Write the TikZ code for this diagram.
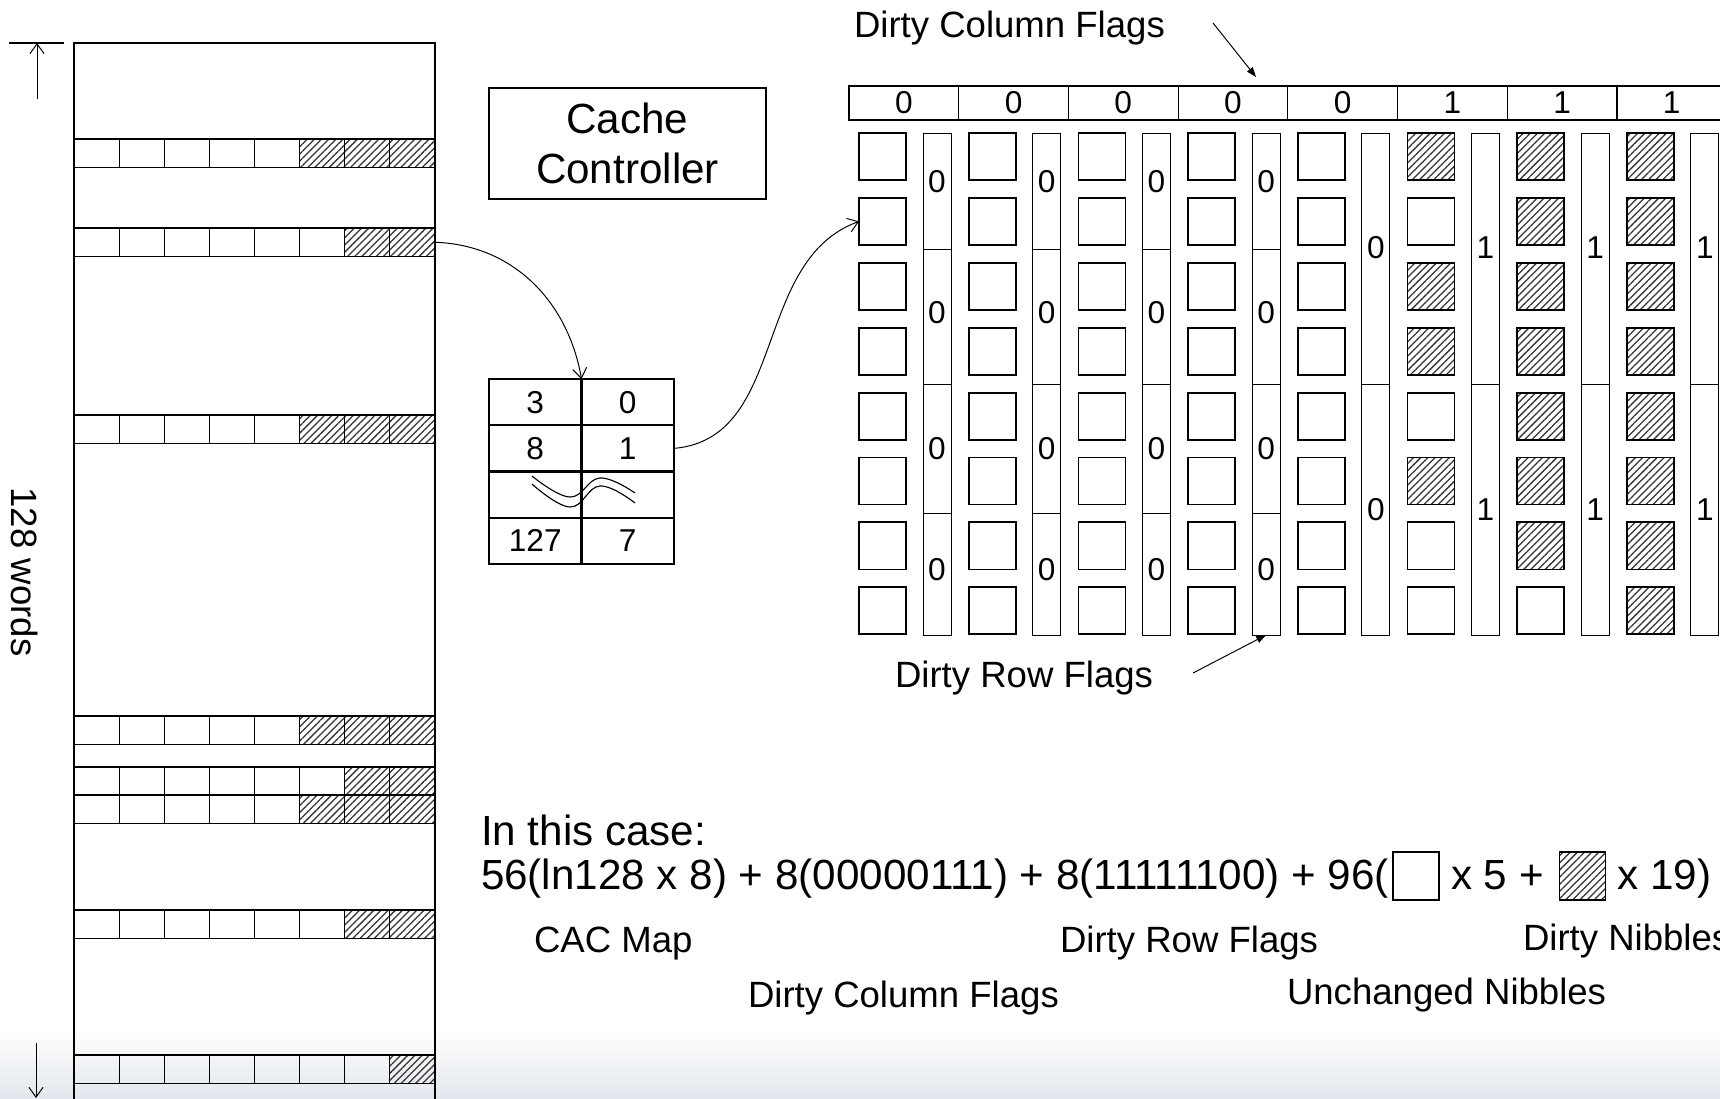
\documentclass[tikz,border=0pt]{standalone}
\usepackage{fontspec}
\setmainfont{Liberation Sans}
\usepackage{tikz}
\usetikzlibrary{arrows.meta,calc,positioning,patterns.meta}
\definecolor{ink}{HTML}{000000}
\definecolor{hatch}{HTML}{333333}
\definecolor{fade}{HTML}{E2E7ED}

\begin{document}
\begin{tikzpicture}[x=0.025cm, y=-0.025cm,
  every node/.style={inner sep=0pt, outer sep=0pt},
  lbl/.style={font=\fontsize{26}{31}\selectfont, anchor=base west},
  txtbig/.style={font=\fontsize{30}{36}\selectfont},
  txtsm/.style={font=\fontsize{22.5}{27}\selectfont},
  dirty/.style={pattern={Lines[angle=45,distance=3.6pt,line width=0.9pt]}, pattern color=hatch},
  wcell/.style={draw, line width=0.8pt, anchor=north west, minimum width=1.128cm, minimum height=0.7125cm},
  nib/.style={draw, line width=1.3pt, anchor=north west, minimum size=1.175cm},
  flagseg/.style={draw, line width=0.7pt, anchor=north west, minimum width=0.7cm},
  hdr/.style={draw, line width=0.8pt, anchor=north west, minimum width=2.7425cm, minimum height=0.85cm, txtsm},
  cac/.style={draw, line width=1.6pt, anchor=north west, minimum width=2.3125cm, minimum height=1.15625cm, txtsm},
  barb/.style={-{Straight Barb[length=7pt,width=10pt]}, line width=0.7pt},
  pointer/.style={-{Triangle[length=7pt,width=5pt]}, line width=0.7pt}]
  \useasboundingbox (0,0) rectangle (1720,1098);
  \clip (0,0) rectangle (1720,1098);
  \fill[white] (0,0) rectangle (1720,1098);
  \shade[top color=white, bottom color=fade] (0,1030) rectangle (1720,1098);

  % memory page with its dirty words
  \node[draw, line width=1pt, anchor=north west, minimum width=9.025cm, minimum height=27cm] (page) at (74,43) {};
  \foreach \r/\ry/\nd in {1/139/3,2/228/2,3/415/3,4/716/3,5/767/2,6/795/3,7/910/2,8/1055/1}
    \foreach \c in {0,...,7} {
      \ifnum\c<\numexpr8-\nd\relax
        \node[wcell] (w\r-\c) at ({74+45.125*\c},\ry) {};
      \else
        \node[wcell,dirty] (w\r-\c) at ({74+45.125*\c},\ry) {};
      \fi
    }
  \coordinate (uptail) at (37,99);
  \coordinate (uphead) at (37,43);
  \coordinate (dntail) at (36,1043);
  \coordinate (dnhead) at (36,1098);
  \draw[line width=0.8pt] (9,43) -- (64,43);
  \draw[barb] (uptail) -- (uphead);
  \draw[barb] (dntail) -- (dnhead);
  \node[lbl, anchor=center, rotate=-90] (words) at (25,572) {128 words};

  \node[draw, line width=0.8pt, txtbig, align=center, minimum width=6.925cm, minimum height=2.775cm] (ctrl) at (627.5,143.5) {Cache\\Controller};

  % CAC map
  \foreach \row/\a/\b in {1/3/0, 2/8/1, 3//, 4/127/7} {
    \node[cac] (cac\row-1) at (489,{379+46.25*(\row-1)}) {\a};
    \node[cac] (cac\row-2) at (581.5,{379+46.25*(\row-1)}) {\b};
  }
  \draw[line width=0.8pt] plot[smooth, tension=0.7] coordinates {(532,476) (570,497) (600,478) (635,493)};
  \draw[line width=0.8pt] plot[smooth, tension=0.7] coordinates {(532,484) (570,507) (600,486) (635,503)};

  % nibble grid
  \foreach \k/\v in {0/0,1/0,2/0,3/0,4/0,5/1,6/1,7/1}
    \node[hdr] (col\k) at ({849+109.7*\k},86) {\v};
  \foreach \k/\bits in {0/{0,0,0,0,0,0,0,0},1/{0,0,0,0,0,0,0,0},2/{0,0,0,0,0,0,0,0},3/{0,0,0,0,0,0,0,0},
                        4/{0,0,0,0,0,0,0,0},5/{1,0,1,1,0,1,0,0},6/{1,1,1,1,1,1,1,0},7/{1,1,1,1,1,1,1,1}}
    \foreach \b [count=\i from 0] in \bits {
      \ifnum\b=1
        \node[nib,dirty] (n\k-\i) at ({859+109.7*\k},{133+64.9*\i}) {};
      \else
        \node[nib] (n\k-\i) at ({859+109.7*\k},{133+64.9*\i}) {};
      \fi
    }
  \foreach \k in {0,...,3}
    \foreach \t/\h/\u [count=\s] in {133/116/6.4,249/135/2.8,384/129/0,513/122/2.8}
      \node[flagseg, minimum height=\h*0.025cm, label={[txtsm, yshift=\u pt]center:0}] (f\k-\s) at ({923+109.7*\k},\t) {};
  \foreach \k/\v in {4/0,5/1,6/1,7/1}
    \foreach \t/\u [count=\s] in {133/7.8,384/0}
      \node[flagseg, minimum height=6.275cm, label={[txtsm, yshift=\u pt]center:\v}] (f\k-\s) at ({923+109.7*\k},\t) {};

  \node[lbl] (dcf) at (854,37) {Dirty Column Flags};
  \coordinate (dcftail) at (1213,23);
  \coordinate (dcftip) at (1256,77);
  \draw[pointer] (dcftail) -- (dcftip);
  \node[lbl] (drf) at (895,687) {Dirty Row Flags};
  \coordinate (drftail) at (1193,673);
  \draw[pointer] (drftail) -- (f3-4.south);

  \draw[barb] (w2-7.east) to[out=-2,in=100] (cac1-1.north east);
  \draw[barb] (cac2-2.east) to[out=5,in=200] (n0-1.west);

  % cost formula
  \node[txtbig, anchor=base west] (case) at (481,845) {In this case:};
  \node[txtbig, anchor=base west] (sum) at (481,889) {56(ln128 x 8) + 8(00000111) + 8(11111100) + 96(};
  \node[draw, line width=1pt, anchor=south west, minimum width=1.15cm, minimum height=1.2cm] (keyclean) at ($(sum.base east)+(0.1cm,-0.275cm)$) {};
  \node[txtbig, anchor=base west] (times5) at ($(keyclean.east |- sum.base)+(0.3cm,0)$) {x 5 +};
  \node[draw, line width=1pt, dirty, anchor=south west, minimum width=1.15cm, minimum height=1.2cm] (keydirty) at ($(times5.base east)+(0.4cm,-0.275cm)$) {};
  \node[txtbig, anchor=base west] (times19) at ($(keydirty.east |- sum.base)+(0.3cm,0)$) {x 19)};
  \node[lbl] (cacmap) at (534,952) {CAC Map};
  \node[lbl] (rowlbl) at (1060,952) {Dirty Row Flags};
  \node[lbl] (niblbl) at (1523,950) {Dirty Nibbles};
  \node[lbl] (collbl) at (748,1007) {Dirty Column Flags};
  \node[lbl] (unchlbl) at (1287,1004) {Unchanged Nibbles};
\end{tikzpicture}
\end{document}
